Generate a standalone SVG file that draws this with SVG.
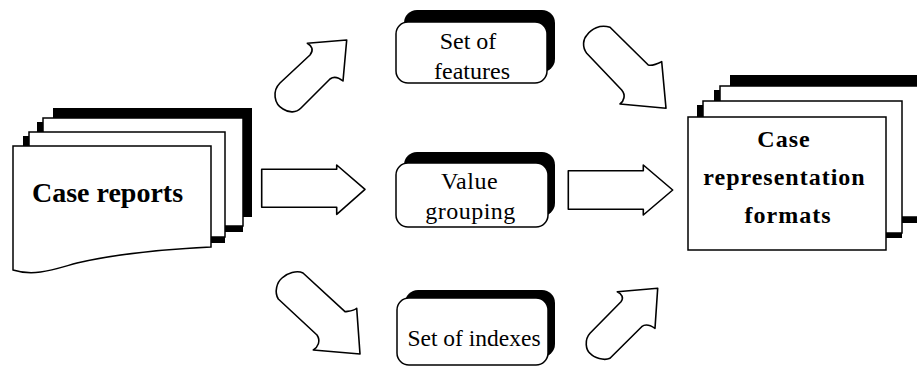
<svg xmlns="http://www.w3.org/2000/svg" width="917" height="367" viewBox="0 0 917 367">
  <style>
    .page { fill: #fff; stroke: #000; stroke-width: 1.5; }
    .ink { fill: #000; }
    .box { fill: #fff; stroke: #000; stroke-width: 1.5; }
    .arrow { fill: #fff; stroke: #000; stroke-width: 1.6; stroke-linejoin: round; }
    .lbl { font-family: "Liberation Serif", "Times New Roman", serif; font-size: 24px; fill: #000; text-anchor: middle; }
    .bold { font-weight: bold; }
  </style>
  <rect width="917" height="367" fill="#fff"/>

  <!-- Stack of source documents -->
  <g id="case-reports">
    <rect class="ink" x="53" y="108" width="199" height="109"/>
    <rect class="ink" x="37" y="122" width="206" height="110"/>
    <rect class="page" x="43" y="118" width="200" height="108"/>
    <rect class="ink" x="23" y="136" width="202" height="107"/>
    <rect class="page" x="29" y="132" width="196" height="105"/>
    <path class="page" d="M13,146 L211,146 L211,247 C170,249 120,253 77,263 C55,269 35,277 13,270 Z"/>
    <text class="lbl bold" x="107.5" y="202" style="font-size:28px">Case reports</text>
  </g>

  <!-- Intermediate result boxes -->
  <g id="set-of-features">
    <rect class="ink" x="404" y="10" width="151" height="62" rx="13"/>
    <rect class="box" x="396" y="22" width="151" height="61" rx="12"/>
    <text class="lbl" x="468" y="49">Set of</text>
    <text class="lbl" x="472" y="79">features</text>
  </g>

  <g id="value-grouping">
    <rect class="ink" x="404" y="152" width="151" height="64" rx="13"/>
    <rect class="box" x="396" y="163" width="152" height="64" rx="12"/>
    <text class="lbl" x="469.5" y="189" letter-spacing="0.5">Value</text>
    <text class="lbl" x="470.5" y="219" letter-spacing="0.5">grouping</text>
  </g>

  <g id="set-of-indexes">
    <rect class="ink" x="405" y="290" width="150" height="67" rx="13"/>
    <rect class="box" x="397" y="298" width="151" height="67" rx="12"/>
    <text class="lbl" x="474" y="346" style="font-size:23.5px">Set of indexes</text>
  </g>

  <!-- Stack of output documents -->
  <g id="case-representation-formats">
    <rect class="ink" x="730" y="75" width="200" height="140"/>
    <rect class="ink" x="714" y="90" width="216" height="133"/>
    <rect class="page" x="720" y="86" width="210" height="131"/>
    <rect class="ink" x="697" y="105" width="205" height="133"/>
    <rect class="page" x="703" y="101" width="199" height="132"/>
    <rect class="page" x="688" y="117" width="198" height="133"/>
    <text class="lbl bold" x="784" y="147" letter-spacing="1">Case</text>
    <text class="lbl bold" x="784.5" y="185" letter-spacing="1">representation</text>
    <text class="lbl bold" x="788" y="223" letter-spacing="1">formats</text>
  </g>

  <!-- Block arrows between the stages -->
  <g id="connectors">
    <path class="arrow" d="M346.7,40 L307.3,43.3 C312,46 314,50 310,55 L280,83 C272,91 274,104 283,109 C289,113 296,113 301,108 L330,79 C334,76 338,77 343,81 Z"/>
    <path class="arrow" d="M261.7,169.3 L336.7,169.3 L336.7,165 L365,189.3 L336.7,214.3 L336.7,207.3 L261.7,207.3 Z"/>
    <path class="arrow" d="M360,354 L313.3,350 C318,347 321,341 317,335 L278.3,299 C274,292 277,282 282,278 C287,273 297,270 303,273 L345,311.7 C350,311 354,311 356.7,308.3 Z"/>
    <path class="arrow" d="M666,108.3 L620,104 C624,101 626,95 621.7,90 L586.7,53.3 C582,47 583,39 587,35 C591,29 600,24 610,27.3 L648.3,65 C652,66 657,64 661.7,61.7 Z"/>
    <path class="arrow" d="M568.3,170.7 L643.3,170.7 L643.3,165 L672.7,190 L643.3,215 L643.3,209.3 L568.3,209.3 Z"/>
    <path class="arrow" d="M657.7,288.3 L617.3,291.7 C622,294 624,298 621,301.7 L590,333.3 C584,340 586,350 590,353.3 C594,358 604,361 610,358.3 L641.7,326.7 C645,324 650,325 655,328.3 Z"/>
  </g>
</svg>
